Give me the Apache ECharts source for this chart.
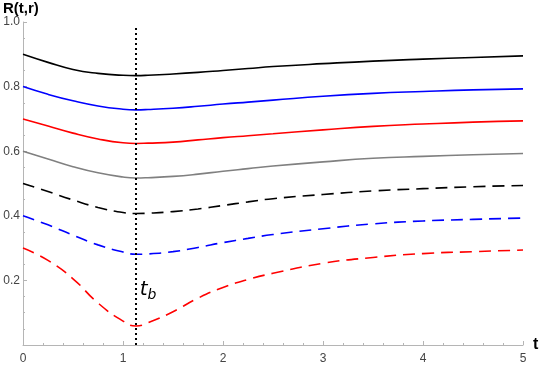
<!DOCTYPE html>
<html>
<head>
<meta charset="utf-8">
<script src="https://cdn.jsdelivr.net/npm/echarts@6/dist/echarts.min.js"></script>
<style>
	html, body { margin: 0; padding: 0; background: #fff; }
	#main { width: 546px; height: 365px; }
</style>
</head>
<body>
<div id="main"></div>
<script>
// 时间点 t
var tValues = [0, 0.25, 0.5, 0.75, 1.0, 1.13, 1.25, 1.5, 1.75, 2, 2.25, 2.5, 3, 3.5, 4, 4.5, 5];
// 各条曲线 R(t,r)
var solidBlack = [0.900, 0.875, 0.853, 0.841, 0.835, 0.834, 0.835, 0.839, 0.844, 0.850, 0.856, 0.862, 0.871, 0.879, 0.885, 0.890, 0.895];
var solidBlue = [0.800, 0.776, 0.756, 0.740, 0.730, 0.728, 0.729, 0.733, 0.739, 0.746, 0.752, 0.758, 0.770, 0.779, 0.785, 0.790, 0.793];
var solidRed = [0.700, 0.678, 0.656, 0.638, 0.626, 0.624, 0.625, 0.628, 0.635, 0.642, 0.648, 0.654, 0.666, 0.677, 0.684, 0.690, 0.694];
var solidGray = [0.600, 0.576, 0.552, 0.533, 0.520, 0.517, 0.518, 0.522, 0.529, 0.538, 0.546, 0.554, 0.567, 0.578, 0.584, 0.589, 0.593];
var dashBlack = [0.500, 0.475, 0.449, 0.426, 0.410, 0.407, 0.408, 0.413, 0.421, 0.432, 0.443, 0.453, 0.466, 0.477, 0.484, 0.490, 0.494];
var dashBlue = [0.400, 0.372, 0.340, 0.310, 0.288, 0.281, 0.282, 0.289, 0.302, 0.317, 0.330, 0.342, 0.360, 0.375, 0.384, 0.389, 0.393];
var dashRed = [0.300, 0.262, 0.205, 0.130, 0.074, 0.059, 0.069, 0.103, 0.145, 0.178, 0.203, 0.222, 0.253, 0.271, 0.283, 0.289, 0.294];
// t_b 位置
var tb = 1.13;
var tbLabelPos = [1.25, 0.17];

function pairs(ys) {
	return tValues.map(function(t, i) {
		return [t, ys[i]];
	});
}

function makeSeries(ys, color, dashed) {
	return {
		type: 'line',
		data: pairs(ys),
		showSymbol: false,
		smooth: 0.5,
		silent: true,
		lineStyle: {
			color: color,
			width: 1.6,
			type: dashed ? [12, 7] : 'solid'
		}
	};
}

var myChart = echarts.init(document.getElementById('main'));

var axisGray = '#b5b5b5';
var labelGray = '#444';

var series = [
	makeSeries(solidBlack, '#000000', false),
	makeSeries(solidBlue, '#0000ff', false),
	makeSeries(solidRed, '#ff0000', false),
	makeSeries(solidGray, '#808080', false),
	makeSeries(dashBlack, '#000000', true),
	makeSeries(dashBlue, '#0000ff', true),
	makeSeries(dashRed, '#ff0000', true)
];

// 竖直虚线和 t_b 标注
series.push({
	type: 'line',
	data: [],
	silent: true,
	markLine: {
		silent: true,
		symbol: 'none',
		label: { show: false },
		lineStyle: { color: '#000', width: 2, type: [2, 3] },
		data: [[{ coord: [tb, 0] }, { coord: [tb, 0.99] }]]
	},
	markPoint: {
		silent: true,
		symbolSize: 0,
		data: [{ coord: tbLabelPos }],
		label: {
			show: true,
			formatter: '{t|t}{b|b}',
			rich: {
				t: { fontFamily: 'DejaVu Sans', fontStyle: 'italic', fontSize: 20, color: '#000' },
				b: { fontFamily: 'DejaVu Sans', fontStyle: 'italic', fontSize: 14, color: '#000', verticalAlign: 'bottom', padding: [10, 0, 0, 0] }
			}
		}
	}
});

var option = {
	animation: false,
	grid: {
		left: 20,
		right: 23,
		top: 22,
		bottom: 19,
		containLabel: false
	},
	xAxis: {
		type: 'value',
		min: 0,
		max: 5,
		interval: 1,
		name: 't',
		nameGap: 10,
		nameTextStyle: { fontFamily: 'Liberation Sans', fontWeight: 'bold', fontSize: 16, color: '#000', verticalAlign: 'middle' },
		axisLine: { lineStyle: { color: axisGray } },
		axisTick: { inside: true, length: 4, lineStyle: { color: axisGray } },
		minorTick: { show: true, splitNumber: 5, length: 2, lineStyle: { color: axisGray } },
		axisLabel: { color: labelGray, fontFamily: 'Liberation Sans', fontSize: 12, margin: 8 },
		splitLine: { show: false }
	},
	yAxis: {
		type: 'value',
		min: 0,
		max: 1,
		interval: 0.2,
		name: 'R(t,r)',
		nameLocation: 'end',
		nameGap: 6,
		nameTextStyle: { fontFamily: 'Liberation Sans', fontWeight: 'bold', fontSize: 15, color: '#000', align: 'left', padding: [0, 0, 0, -20] },
		axisLine: { show: true, lineStyle: { color: axisGray } },
		axisTick: { show: true, inside: true, length: 4, lineStyle: { color: axisGray } },
		minorTick: { show: true, splitNumber: 4, length: 2, lineStyle: { color: axisGray } },
		axisLabel: {
			color: labelGray,
			fontFamily: 'Liberation Sans',
			fontSize: 12,
			margin: 3,
			formatter: function(v) {
				return v === 0 ? '' : v.toFixed(1);
			}
		},
		splitLine: { show: false }
	},
	series: series
};

myChart.setOption(option);
</script>
</body>
</html>
